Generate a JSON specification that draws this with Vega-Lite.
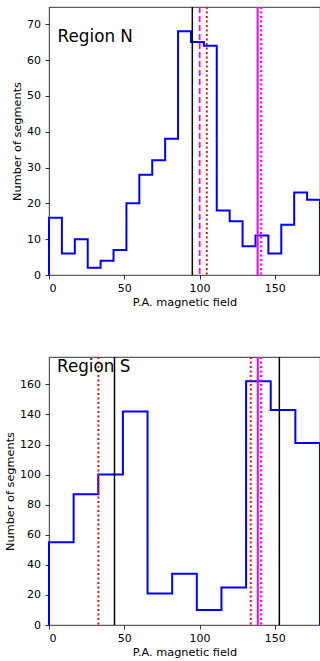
{
  "$schema": "https://vega.github.io/schema/vega-lite/v6.json",
  "background": "white",
  "padding": {"left": 4, "top": 5, "right": 0, "bottom": 0},
  "spacing": 82,
  "bounds": "flush",
  "config": {
    "font": "DejaVu Sans",
    "view": {"stroke": "black", "strokeWidth": 0.8},
    "axis": {
      "domain": false,
      "grid": false,
      "tickColor": "black",
      "tickWidth": 0.8,
      "tickSize": 4,
      "labelFontSize": 11,
      "labelColor": "black",
      "labelOverlap": false,
      "titleFontSize": 11.3,
      "titleFontWeight": "normal",
      "titleColor": "black",
      "labelFont": "DejaVu Sans",
      "titleFont": "DejaVu Sans"
    },
    "axisX": {"labelPadding": 3, "titlePadding": 3},
    "axisY": {"labelPadding": 4.5, "titlePadding": 4}
  },
  "datasets": {
    "histN": [
      {"i": 0, "x": 0, "n": 0},
      {"i": 1, "x": 0, "n": 16},
      {"i": 2, "x": 8.571, "n": 6},
      {"i": 3, "x": 17.143, "n": 10},
      {"i": 4, "x": 25.714, "n": 2},
      {"i": 5, "x": 34.286, "n": 4},
      {"i": 6, "x": 42.857, "n": 7},
      {"i": 7, "x": 51.429, "n": 20},
      {"i": 8, "x": 60, "n": 28},
      {"i": 9, "x": 68.571, "n": 32},
      {"i": 10, "x": 77.143, "n": 38},
      {"i": 11, "x": 85.714, "n": 68},
      {"i": 12, "x": 94.286, "n": 65},
      {"i": 13, "x": 102.857, "n": 64},
      {"i": 14, "x": 111.429, "n": 18},
      {"i": 15, "x": 120, "n": 15},
      {"i": 16, "x": 128.571, "n": 8},
      {"i": 17, "x": 137.143, "n": 11},
      {"i": 18, "x": 145.714, "n": 6},
      {"i": 19, "x": 154.286, "n": 14},
      {"i": 20, "x": 162.857, "n": 23},
      {"i": 21, "x": 171.429, "n": 21},
      {"i": 22, "x": 180, "n": 0}
    ],
    "histS": [
      {"i": 0, "x": 0, "n": 0},
      {"i": 1, "x": 0, "n": 55},
      {"i": 2, "x": 16.364, "n": 87},
      {"i": 3, "x": 32.727, "n": 100},
      {"i": 4, "x": 49.091, "n": 142},
      {"i": 5, "x": 65.455, "n": 21},
      {"i": 6, "x": 81.818, "n": 34},
      {"i": 7, "x": 98.182, "n": 10},
      {"i": 8, "x": 114.545, "n": 25},
      {"i": 9, "x": 130.909, "n": 162},
      {"i": 10, "x": 147.273, "n": 143},
      {"i": 11, "x": 163.636, "n": 121},
      {"i": 12, "x": 180, "n": 0}
    ],
    "linesN": [
      {"x": 95.2, "kind": "black solid"},
      {"x": 100.1, "kind": "magenta dashed"},
      {"x": 104.8, "kind": "red dotted"},
      {"x": 138.6, "kind": "magenta solid"},
      {"x": 140.9, "kind": "magenta dotted"}
    ],
    "linesS": [
      {"x": 32.8, "kind": "red dotted"},
      {"x": 43.5, "kind": "black solid"},
      {"x": 134.0, "kind": "red dotted"},
      {"x": 138.7, "kind": "magenta solid"},
      {"x": 140.9, "kind": "magenta dotted"},
      {"x": 153.0, "kind": "black solid"}
    ],
    "labelN": [{"label": "Region N", "x": 5.7, "y": 64.9}],
    "labelS": [{"label": "Region S", "x": 5.3, "y": 167.9}]
  },
  "vconcat": [
    {
      "width": 271,
      "height": 268,
      "encoding": {
        "x": {"field": "x", "type": "quantitative", "scale": {"domain": [0, 180], "nice": false, "zero": false},
              "axis": {"title": "P.A. magnetic field", "values": [0, 50, 100, 150], "tickCount": 4}}
      },
      "layer": [
        {
          "data": {"name": "histN"},
          "mark": {"type": "line", "interpolate": "step-after", "color": "#0000ff", "strokeWidth": 2, "clip": false},
          "encoding": {
            "y": {"field": "n", "type": "quantitative", "scale": {"domain": [0, 74.8], "nice": false},
                  "axis": {"title": "Number of segments", "values": [0, 10, 20, 30, 40, 50, 60, 70], "tickCount": 8}},
            "order": {"field": "i", "type": "quantitative"}
          }
        },
        {
          "data": {"name": "linesN"},
          "mark": {"type": "rule"},
          "encoding": {
            "color": {"field": "kind", "type": "nominal", "legend": null,
                      "scale": {"domain": ["black solid", "magenta dashed", "red dotted", "magenta solid", "magenta dotted"],
                                "range": ["#000000", "#ff00ff", "#ff0000", "#ff00ff", "#ff00ff"]}},
            "strokeDash": {"field": "kind", "type": "nominal", "legend": null,
                      "scale": {"domain": ["black solid", "magenta dashed", "red dotted", "magenta solid", "magenta dotted"],
                                "range": [[1, 0], [6, 3], [2, 2.5], [1, 0], [2, 2.5]]}},
            "strokeWidth": {"field": "kind", "type": "nominal", "legend": null,
                      "scale": {"domain": ["black solid", "magenta dashed", "red dotted", "magenta solid", "magenta dotted"],
                                "range": [1.5, 2.2, 2, 1.5, 2]}}
          }
        },
        {
          "data": {"name": "labelN"},
          "mark": {"type": "text", "fontSize": 16.8, "align": "left", "baseline": "alphabetic", "color": "black", "font": "DejaVu Sans"},
          "encoding": {
            "y": {"field": "y", "type": "quantitative"},
            "text": {"field": "label", "type": "nominal"}
          }
        }
      ]
    },
    {
      "width": 271,
      "height": 268,
      "encoding": {
        "x": {"field": "x", "type": "quantitative", "scale": {"domain": [0, 180], "nice": false, "zero": false},
              "axis": {"title": "P.A. magnetic field", "values": [0, 50, 100, 150], "tickCount": 4}}
      },
      "layer": [
        {
          "data": {"name": "histS"},
          "mark": {"type": "line", "interpolate": "step-after", "color": "#0000ff", "strokeWidth": 2, "clip": false},
          "encoding": {
            "y": {"field": "n", "type": "quantitative", "scale": {"domain": [0, 178.2], "nice": false},
                  "axis": {"title": "Number of segments", "values": [0, 20, 40, 60, 80, 100, 120, 140, 160], "tickCount": 9}},
            "order": {"field": "i", "type": "quantitative"}
          }
        },
        {
          "data": {"name": "linesS"},
          "mark": {"type": "rule"},
          "encoding": {
            "color": {"field": "kind", "type": "nominal", "legend": null,
                      "scale": {"domain": ["black solid", "magenta dashed", "red dotted", "magenta solid", "magenta dotted"],
                                "range": ["#000000", "#ff00ff", "#ff0000", "#ff00ff", "#ff00ff"]}},
            "strokeDash": {"field": "kind", "type": "nominal", "legend": null,
                      "scale": {"domain": ["black solid", "magenta dashed", "red dotted", "magenta solid", "magenta dotted"],
                                "range": [[1, 0], [6, 3], [2, 2.5], [1, 0], [2, 2.5]]}},
            "strokeWidth": {"field": "kind", "type": "nominal", "legend": null,
                      "scale": {"domain": ["black solid", "magenta dashed", "red dotted", "magenta solid", "magenta dotted"],
                                "range": [1.5, 2.2, 2, 1.5, 2]}}
          }
        },
        {
          "data": {"name": "labelS"},
          "mark": {"type": "text", "fontSize": 16.8, "align": "left", "baseline": "alphabetic", "color": "black", "font": "DejaVu Sans"},
          "encoding": {
            "y": {"field": "y", "type": "quantitative"},
            "text": {"field": "label", "type": "nominal"}
          }
        }
      ]
    }
  ]
}
